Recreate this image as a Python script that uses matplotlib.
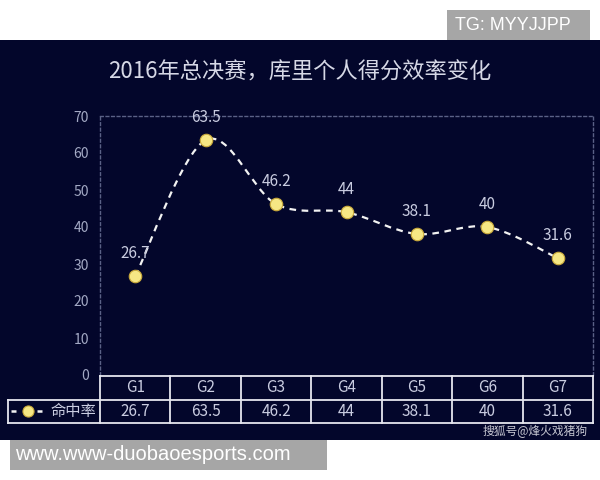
import numpy as np
import matplotlib
matplotlib.use('Agg')
import matplotlib.pyplot as plt
from matplotlib.path import Path
from matplotlib.patches import PathPatch, Rectangle

plt.rcParams['font.family'] = ['Noto Sans CJK SC', 'DejaVu Sans']

games = ['G1', 'G2', 'G3', 'G4', 'G5', 'G6', 'G7']
fg_pct = [26.7, 63.5, 46.2, 44, 38.1, 40, 31.6]
value_labels = ['26.7', '63.5', '46.2', '44', '38.1', '40', '31.6']
yticks = [0, 10, 20, 30, 40, 50, 60, 70]
series_name = '命中率'
title = '2016年总决赛，库里个人得分效率变化'

bg = '#03062b'
txt = '#c9cce0'
tick_col = '#a3a9c4'
yellow = '#f6e784'

W, H = 600, 480
fig = plt.figure(figsize=(6, 4.8), dpi=100)
fig.patch.set_facecolor('white')

def fx(px):
    return px / W

def fy(py):
    return 1 - py / H

# dark panel (kept behind the axes)
fig.patches.append(Rectangle((0, fy(440)), 1, fy(40) - fy(440), transform=fig.transFigure,
                             facecolor=bg, edgecolor='none', zorder=-10))
# watermark boxes
fig.patches.append(Rectangle((fx(447), fy(40)), fx(590) - fx(447), fy(10) - fy(40),
                             transform=fig.transFigure, facecolor='#a6a6a6', edgecolor='none',
                             zorder=-10))
fig.text(fx(455), fy(25), 'TG: MYYJJPP', color='white', fontsize=13, family='Liberation Sans',
         va='center', ha='left')
fig.patches.append(Rectangle((fx(10), fy(470)), fx(327) - fx(10), fy(440) - fy(470),
                             transform=fig.transFigure, facecolor='#a6a6a6', edgecolor='none',
                             zorder=-10))
fig.text(fx(15), fy(455), 'www.www-duobaoesports.com', color='white', fontsize=14.5,
         family='Liberation Sans', va='center', ha='left')

fig.text(0.5, fy(72), title, color='#d6d8e6', fontsize=16, ha='center', va='center')

# main axes
ax = fig.add_axes([fx(100), fy(375), fx(593) - fx(100), fy(116) - fy(375)])
ax.set_facecolor('none')
ax.set_xlim(-0.5, len(games) - 0.5)
ax.set_ylim(0, 70)
ax.set_yticks(yticks)
ax.set_yticklabels([str(t) for t in yticks])
ax.set_xticks([])
ax.tick_params(axis='y', length=0, colors=tick_col, labelsize=10, pad=8)
for side in ['top', 'right', 'left']:
    ax.spines[side].set_color('#5a6186')
    ax.spines[side].set_linestyle((0, (2, 2)))
    ax.spines[side].set_linewidth(1)
ax.spines['bottom'].set_visible(False)

# smoothed line (bezier through the points)
x = np.arange(len(fg_pct), dtype=float)
y = np.array(fg_pct, dtype=float)
verts = [(x[0], y[0])]
codes = [Path.MOVETO]
n = len(x)
for i in range(n - 1):
    p0 = (x[max(i - 1, 0)], y[max(i - 1, 0)])
    p1 = (x[i], y[i])
    p2 = (x[i + 1], y[i + 1])
    p3 = (x[min(i + 2, n - 1)], y[min(i + 2, n - 1)])
    c1 = (p1[0] + (p2[0] - p0[0]) / 6, p1[1] + (p2[1] - p0[1]) / 6)
    c2 = (p2[0] - (p3[0] - p1[0]) / 6, p2[1] - (p3[1] - p1[1]) / 6)
    verts += [c1, c2, p2]
    codes += [Path.CURVE4] * 3
ax.add_patch(PathPatch(Path(verts, codes), facecolor='none', edgecolor='#f2f2f2',
                       lw=1.6, linestyle=(0, (3, 2.5)), zorder=2))
ax.plot(x, y, linestyle='none', marker='o', markersize=9, markerfacecolor=yellow,
        markeredgecolor='#c9a93a', markeredgewidth=0.8, zorder=3)
for xi, yi, lab in zip(x, y, value_labels):
    ax.annotate(lab, (xi, yi), xytext=(0, 10), textcoords='offset points', ha='center',
                va='bottom', color=txt, fontsize=11)

# data table
tab = fig.add_axes([fx(8), fy(423), fx(593) - fx(8), fy(376) - fy(423)])
tab.set_facecolor('none')
tab.axis('off')
colw = 70.4
leg_w = 92 / colw
tab.set_xlim(-0.5 - leg_w, len(games) - 0.5)
tab.set_ylim(0, 2)
lc = '#e6e6ee'
lw = 1.3
tab.plot([-0.5, len(games) - 0.5], [2, 2], color=lc, lw=lw, clip_on=False)
tab.plot([-0.5 - leg_w, len(games) - 0.5], [1, 1], color=lc, lw=lw, clip_on=False)
tab.plot([-0.5 - leg_w, len(games) - 0.5], [0, 0], color=lc, lw=lw, clip_on=False)
tab.plot([-0.5 - leg_w, -0.5 - leg_w], [0, 1], color=lc, lw=lw, clip_on=False)
for k in range(len(games) + 1):
    tab.plot([k - 0.5, k - 0.5], [0, 2], color=lc, lw=lw, clip_on=False)
for k, (g, lab) in enumerate(zip(games, value_labels)):
    tab.text(k, 1.5, g, ha='center', va='center', color=txt, fontsize=11)
    tab.text(k, 0.5, lab, ha='center', va='center', color=txt, fontsize=11)
lx0 = -0.5 - leg_w
tab.plot([lx0 + 3 / colw, lx0 + 8 / colw], [0.5, 0.5], color='#f2f2f2', lw=1.8,
         solid_capstyle='butt')
tab.plot([lx0 + 29 / colw, lx0 + 34 / colw], [0.5, 0.5], color='#f2f2f2', lw=1.8,
         solid_capstyle='butt')
tab.plot([lx0 + 20 / colw], [0.5], marker='o', markersize=8, markerfacecolor=yellow,
         markeredgecolor='#c9a93a', markeredgewidth=0.8)
tab.text(-0.5 - 4 / colw, 0.5, series_name, ha='right', va='center', color=txt, fontsize=11)

fig.text(fx(535), fy(431), '搜狐号@烽火戏猪狗', color='#e8e8ee', fontsize=8.5, ha='center',
         va='center', alpha=0.85)

fig.savefig('out.png', dpi=100, facecolor=fig.get_facecolor())
